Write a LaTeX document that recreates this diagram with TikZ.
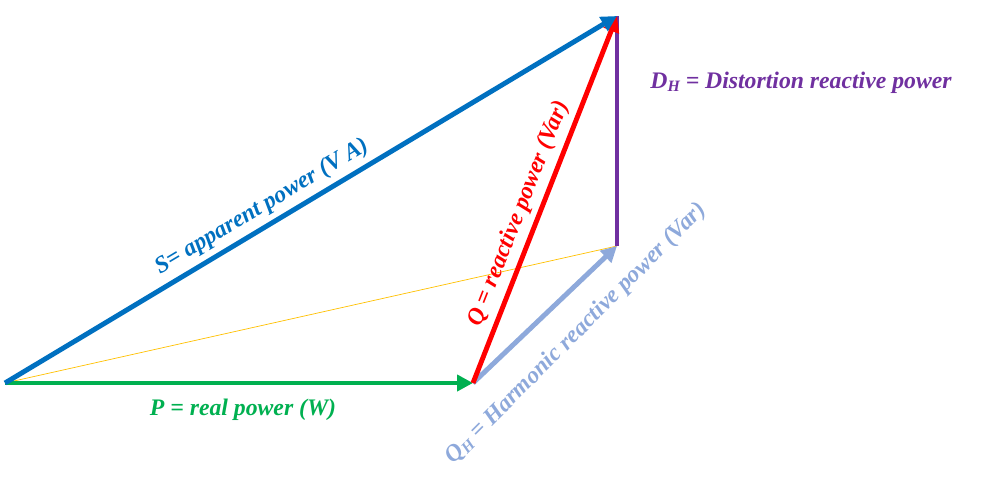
\documentclass[tikz,border=0pt]{standalone}
\usepackage{fontspec}
\setmainfont{Liberation Serif}
\usetikzlibrary{arrows.meta}
\definecolor{cblue}{RGB}{0,112,192}
\definecolor{cgreen}{RGB}{0,176,80}
\definecolor{cred}{RGB}{255,0,0}
\definecolor{clblue}{RGB}{142,169,219}
\definecolor{cpurple}{RGB}{112,48,160}
\definecolor{cyellow}{RGB}{255,192,0}
\newcommand{\sbx}[1]{\raisebox{-0.25ex}{\fontsize{9}{10}\selectfont #1}}
\tikzset{vec/.style={line width=2.8pt,-{Triangle[length=9pt,width=9pt]}},
lab/.style={font=\fontsize{13.5}{16}\selectfont\bfseries\itshape}}
\begin{document}
\begin{tikzpicture}[x=0.02cm,y=-0.02cm]
\useasboundingbox (0,0) rectangle (987,501);
\coordinate (O) at (5,383);
\coordinate (P) at (473,383);
\coordinate (H) at (617,246);
\coordinate (T) at (617,16);
\draw[cyellow,line width=0.4pt] (O) -- (H);
\draw[vec,cgreen] (O) -- (P);
\draw[vec,clblue] (P) -- (H);
\draw[line width=2.8pt,cpurple] (H) -- (T);
\draw[vec,cred] (P) -- (T);
\draw[vec,cblue] (O) -- (T);
\node[lab,text=cblue,rotate=30.8] (ls) at (262,207) {S= apparent power (V A)};
\node[lab,text=cred,rotate=68.5] (lq) at (519,214) {Q = reactive power (Var)};
\node[lab,text=clblue,rotate=45] (lh) at (576,334) {Q\sbx{H} = Harmonic reactive power (Var)};
\node[lab,text=cpurple] (ld) at (801,83) {D\sbx{H} = Distortion reactive power};
\node[lab,text=cgreen] (lp) at (243,410) {P = real power (W)};
\end{tikzpicture}
\end{document}
